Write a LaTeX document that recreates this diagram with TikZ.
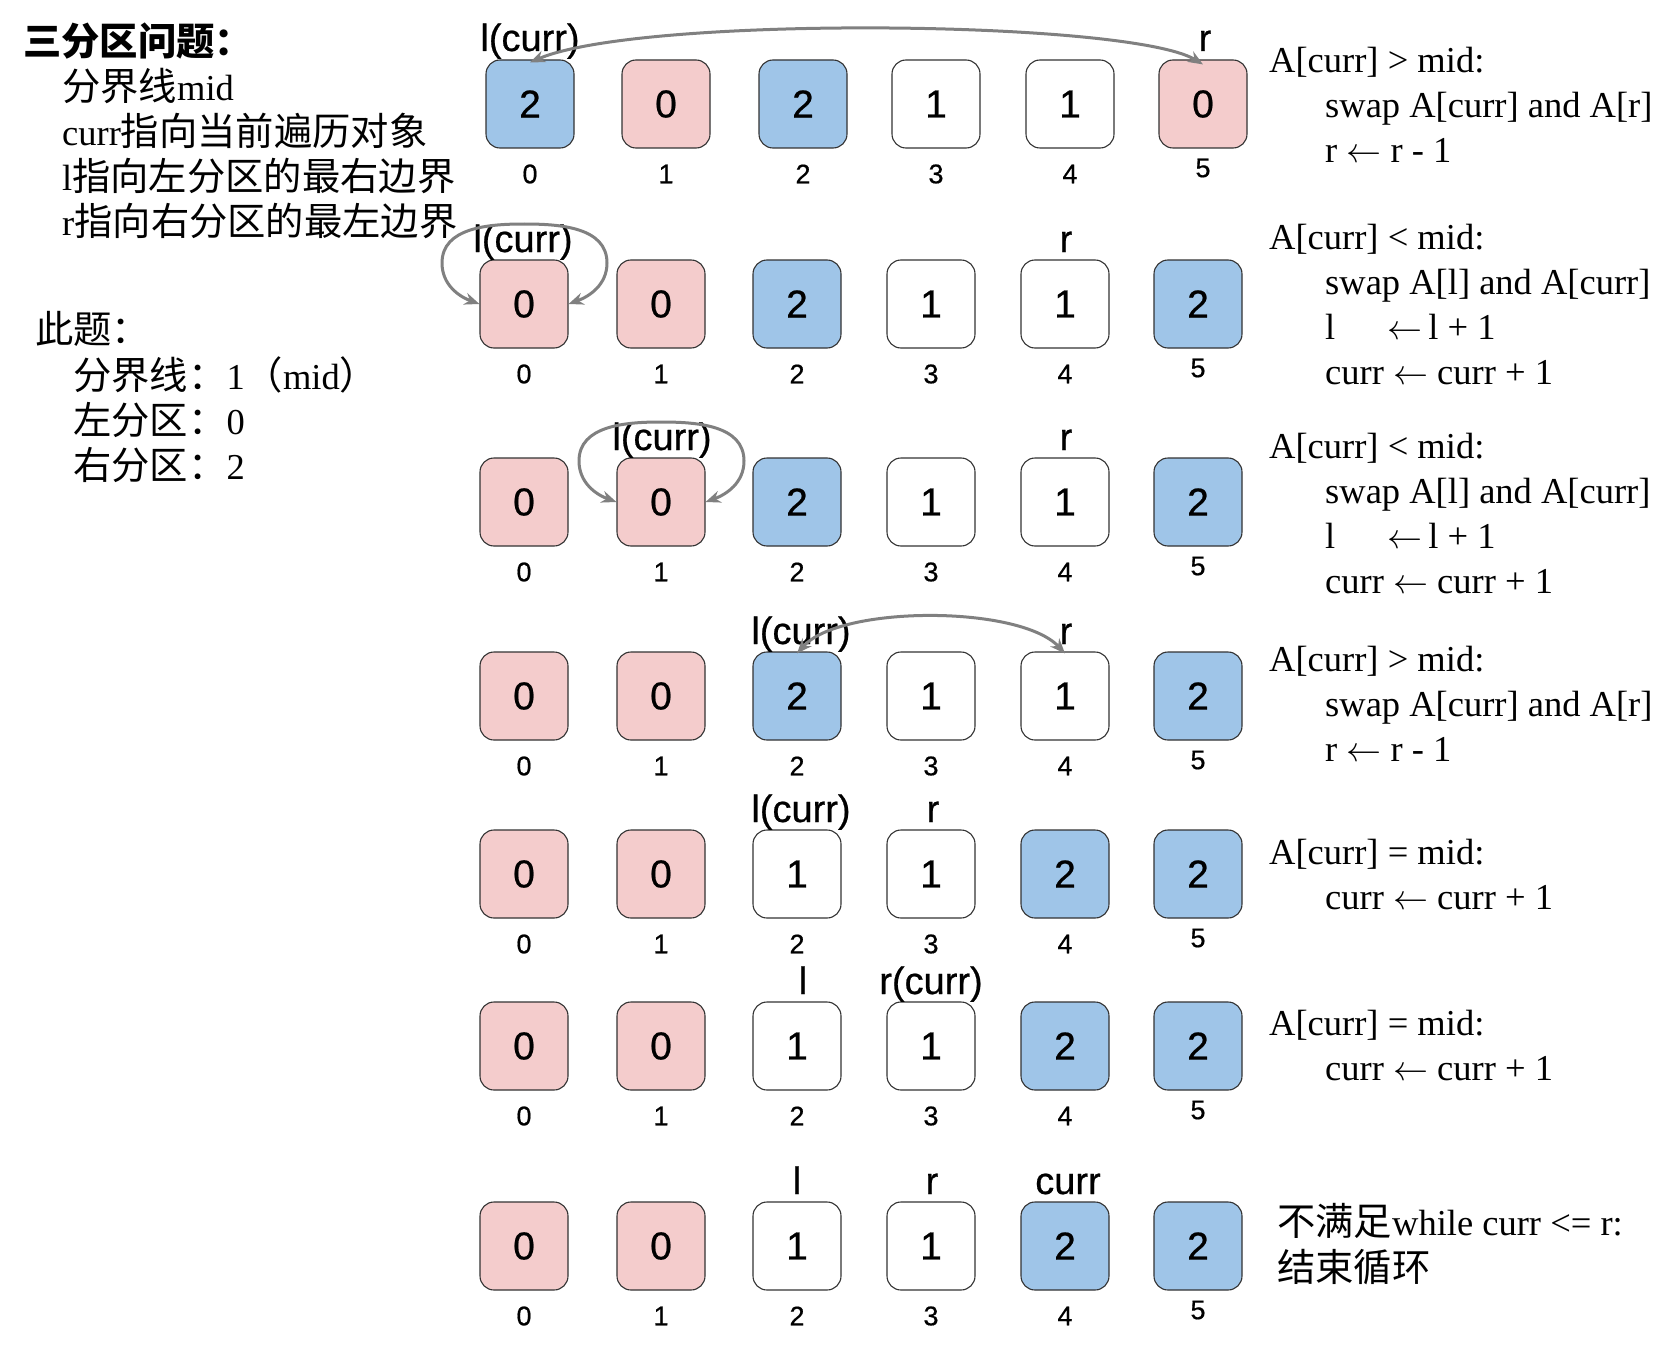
\documentclass[tikz,border=0pt]{standalone}
\usepackage{fontspec}
\setmainfont{Liberation Serif}
\newfontfamily\cjk[Scale=1.05]{Noto Sans CJK SC}
\newfontfamily\arialf[FakeBold=0.6]{Liberation Sans}
\usetikzlibrary{arrows.meta}
\definecolor{cblue}{HTML}{9FC5E8}
\definecolor{cpink}{HTML}{F4CCCC}
\definecolor{cgray}{HTML}{808080}
\newcommand\zh[1]{{\cjk #1}}
\newcommand\lar{\scalebox{3.5}{\fontsize{10}{12}\selectfont$\leftarrow$}}
\begin{document}
\begin{tikzpicture}[x=1pt,y=1pt,
  cell/.style={draw=black!80, line width=1.1pt, rounded corners=14pt, minimum width=88pt, minimum height=88pt, inner sep=0pt, font=\arialf\fontsize{39}{42}\selectfont},
  cb/.style={cell, fill=cblue},
  cp/.style={cell, fill=cpink},
  cw/.style={cell, fill=white},
  idx/.style={font=\arialf\fontsize{27}{30}\selectfont, inner sep=0pt},
  ptr/.style={font=\arialf\fontsize{38}{42}\selectfont, inner sep=0pt, anchor=base},
  txt/.style={font=\fontsize{36.5}{42}\selectfont, inner sep=0pt, anchor=west, text height=25pt, text depth=7pt},
  arr/.style={draw=cgray, line width=3pt, {Stealth[length=15pt,width=12pt]}-{Stealth[length=15pt,width=12pt]}},
]
\useasboundingbox (0,0) rectangle (1678,-1351);
\fill[white] (0,0) rectangle (1678,-1351);

% ---------- left description ----------
\node[txt] (t0) at (23,-47) {\zh{\bfseries 三分区问题：}};
\node[txt] (t1) at (62,-92) {\zh{分界线}mid};
\node[txt] (t2) at (62,-137) {curr\zh{指向当前遍历对象}};
\node[txt] (t3) at (62,-182) {l\zh{指向左分区的最右边界}};
\node[txt] (t4) at (62,-227) {r\zh{指向右分区的最左边界}};
\node[txt] (t5) at (35,-334) {\zh{此题：}};
\node[txt] (t6) at (73,-380) {\zh{分界线：}1\zh{（}mid\zh{）}};
\node[txt] (t7) at (73,-425) {\zh{左分区：}0};
\node[txt] (t8) at (73,-470) {\zh{右分区：}2};

% ---------- row 1 ----------
\foreach \c/\x/\v/\s in {0/530/2/cb,1/666/0/cp,2/803/2/cb,3/936/1/cw,4/1070/1/cw,5/1203/0/cp}{
  \node[\s] (b1\c) at (\x,-104) {\v};
  \node[idx] (i1\c) at (\x,{-174+(\c==5)*6}) {\c};
}
% ---------- rows 2-4 ----------
\foreach \r/\y in {2/304,3/502,4/696}{
  \foreach \c/\x/\v/\s in {0/524/0/cp,1/661/0/cp,2/797/2/cb,3/931/1/cw,4/1065/1/cw,5/1198/2/cb}{
    \node[\s] (b\r\c) at (\x,-\y) {\v};
    \node[idx] (i\r\c) at (\x,{-\y-70+(\c==5)*6}) {\c};
  }
}
% ---------- rows 5-7 ----------
\foreach \r/\y in {5/874,6/1046,7/1246}{
  \foreach \c/\x/\v/\s in {0/524/0/cp,1/661/0/cp,2/797/1/cw,3/931/1/cw,4/1065/2/cb,5/1198/2/cb}{
    \node[\s] (b\r\c) at (\x,-\y) {\v};
    \node[idx] (i\r\c) at (\x,{-\y-70+(\c==5)*6}) {\c};
  }
}

% ---------- pointer labels ----------
\node[ptr] (p1l) at (530,-51) {l(curr)};
\node[ptr] (p1r) at (1205,-51) {r};
\node[ptr] (p2l) at (523,-252) {l(curr)};
\node[ptr] (p2r) at (1066,-252) {r};
\node[ptr] (p3l) at (662,-450) {l(curr)};
\node[ptr] (p3r) at (1066,-450) {r};
\node[ptr] (p4l) at (801,-644) {l(curr)};
\node[ptr] (p4r) at (1066,-644) {r};
\node[ptr] (p5l) at (801,-822) {l(curr)};
\node[ptr] (p5r) at (933,-822) {r};
\node[ptr] (p6l) at (803,-994) {l};
\node[ptr] (p6r) at (931,-994) {r(curr)};
\node[ptr] (p7l) at (797,-1194) {l};
\node[ptr] (p7r) at (932,-1194) {r};
\node[ptr] (p7c) at (1068,-1194) {curr};

% ---------- arrows ----------
\draw[arr] ([yshift=-3pt]b10.north) .. controls (640,-15) and (1130,-20) .. ([yshift=-5pt]b15.north);
\draw[arr] (b20.west) to[out=160,in=270] ([shift={(-82,41)}]b20.center) to[out=90,in=180] ([shift={(0,80)}]b20.center) to[out=0,in=90] ([shift={(83,41)}]b20.center) to[out=270,in=20] (b20.east);
\draw[arr] (b31.west) to[out=160,in=270] ([shift={(-82,41)}]b31.center) to[out=90,in=180] ([shift={(0,80)}]b31.center) to[out=0,in=90] ([shift={(83,41)}]b31.center) to[out=270,in=20] (b31.east);
\draw[arr] ([yshift=-2pt]b42.north) .. controls (840,-605) and (1020,-605) .. ([yshift=-2pt]b44.north);

% ---------- right descriptions ----------
\node[txt] (r1a) at (1269,-64) {A[curr] > mid:};
\node[txt] (r1b) at (1325,-109) {swap A[curr] and A[r]};
\node[txt] (r1c) at (1325,-154) {r \lar{} r - 1};

\node[txt] (r2a) at (1269,-240) {A[curr] < mid:};
\node[txt] (r2b) at (1325,-285) {swap A[l] and A[curr]};
\node[txt] (r2c) at (1325,-330) {\makebox[1.7em][l]{l}\lar\,l + 1};
\node[txt] (r2d) at (1325,-375) {curr \lar{} curr + 1};

\node[txt] (r3a) at (1269,-449) {A[curr] < mid:};
\node[txt] (r3b) at (1325,-494) {swap A[l] and A[curr]};
\node[txt] (r3c) at (1325,-539) {\makebox[1.7em][l]{l}\lar\,l + 1};
\node[txt] (r3d) at (1325,-584) {curr \lar{} curr + 1};

\node[txt] (r4a) at (1269,-662) {A[curr] > mid:};
\node[txt] (r4b) at (1325,-707) {swap A[curr] and A[r]};
\node[txt] (r4c) at (1325,-752) {r \lar{} r - 1};

\node[txt] (r5a) at (1269,-855) {A[curr] = mid:};
\node[txt] (r5b) at (1325,-900) {curr \lar{} curr + 1};

\node[txt] (r6a) at (1269,-1026) {A[curr] = mid:};
\node[txt] (r6b) at (1325,-1071) {curr \lar{} curr + 1};

\node[txt] (r7a) at (1277,-1226) {\zh{不满足}while curr <= r:};
\node[txt] (r7b) at (1277,-1272) {\zh{结束循环}};
\end{tikzpicture}
\end{document}
